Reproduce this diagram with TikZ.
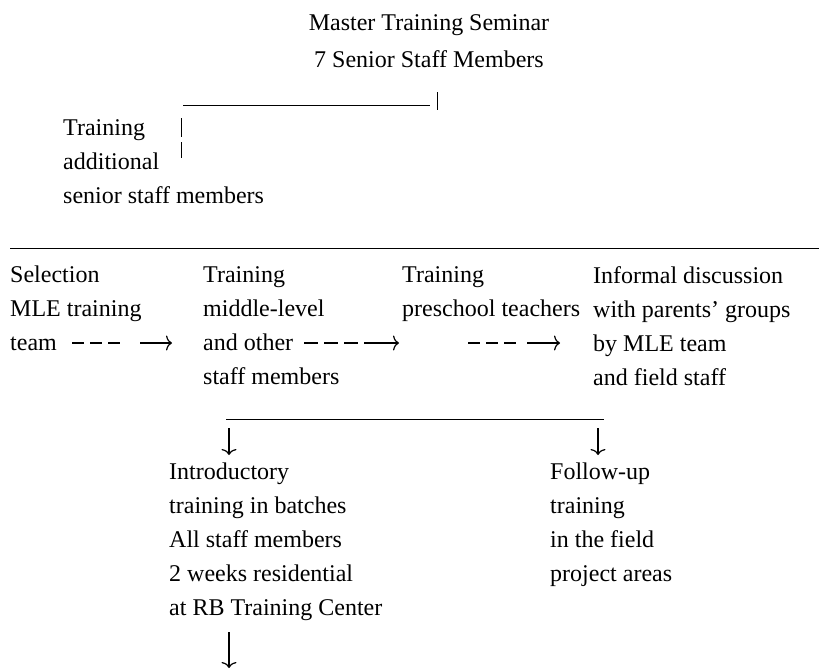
\documentclass[tikz,border=0pt]{standalone}
\usepackage{fontspec}
\setmainfont{Liberation Serif}
\usetikzlibrary{positioning,arrows.meta}

\begin{document}
\begin{tikzpicture}[x=1pt, y=-1pt,
  txt/.style={align=left, anchor=north west, inner sep=0pt, font=\fontsize{24}{34}\selectfont},
  rule/.style={line width=1pt},
  dash line/.style={line width=1.3pt, dash pattern=on 12pt off 6pt},
  flow/.style={line width=1.2pt, -{To[length=6pt, width=15pt]}}]
\useasboundingbox (0,0) rectangle (819,670);
\node[txt, align=center, anchor=north, font=\fontsize{24}{37}\selectfont] (mts) at (429,14) {Master Training Seminar\\7 Senior Staff Members};
\node[txt] (tas) at (63,119) {Training\\additional\\senior staff members};
\node[txt] (sel) at (10,266) {Selection\\MLE training\\team};
\node[txt] (tms) at (203,266) {Training\\middle-level\\and other\\staff members};
\node[txt] (tpt) at (402,266) {Training\\preschool teachers};
\node[txt] (inf) at (593,266) {Informal discussion\\with parents' groups\\by MLE team\\and field staff};
\node[txt] (itb) at (169,463) {Introductory\\training in batches\\All staff members\\2 weeks residential\\at RB Training Center};
\node[txt] (fut) at (550,463) {Follow-up\\training\\in the field\\project areas};
\coordinate (t1) at (183,105); \coordinate (t2) at (430,105);
\coordinate (k1) at (437,92);  \coordinate (k2) at (437,110);
\coordinate (s1) at (181,118); \coordinate (s2) at (181,137);
\coordinate (s3) at (181,142); \coordinate (s4) at (181,158);
\coordinate (h1) at (10,248);  \coordinate (h2) at (819,248);
\coordinate (a1) at (72,343);  \coordinate (a2) at (120,343);
\coordinate (a3) at (140,343); \coordinate (a4) at (172,343);
\coordinate (b1) at (304,343); \coordinate (b2) at (358,343);
\coordinate (b3) at (364,343); \coordinate (b4) at (399,343);
\coordinate (c1) at (468,343); \coordinate (c2) at (516,343);
\coordinate (c3) at (527,343); \coordinate (c4) at (560,343);
\coordinate (l1) at (226,419); \coordinate (l2) at (604,419);
\coordinate (d1) at (229,428); \coordinate (d2) at (598,428);
\coordinate (e1) at (229,632); \coordinate (e2) at (229,668);
\draw[rule] (t1) -- (t2) (k1) -- (k2) (s1) -- (s2) (s3) -- (s4) (h1) -- (h2) (l1) -- (l2);
\draw[dash line] (a1) -- (a2) (c1) -- (c2);
\draw[dash line, dash pattern=on 14pt off 6pt] (b1) -- (b2);
\draw[flow] (a3) -- (a4);
\draw[flow] (b3) -- (b4);
\draw[flow] (c3) -- (c4);
\draw[flow] (d1) -- ++(0,27);
\draw[flow] (d2) -- ++(0,27);
\draw[flow] (e1) -- (e2);
\end{tikzpicture}
\end{document}
